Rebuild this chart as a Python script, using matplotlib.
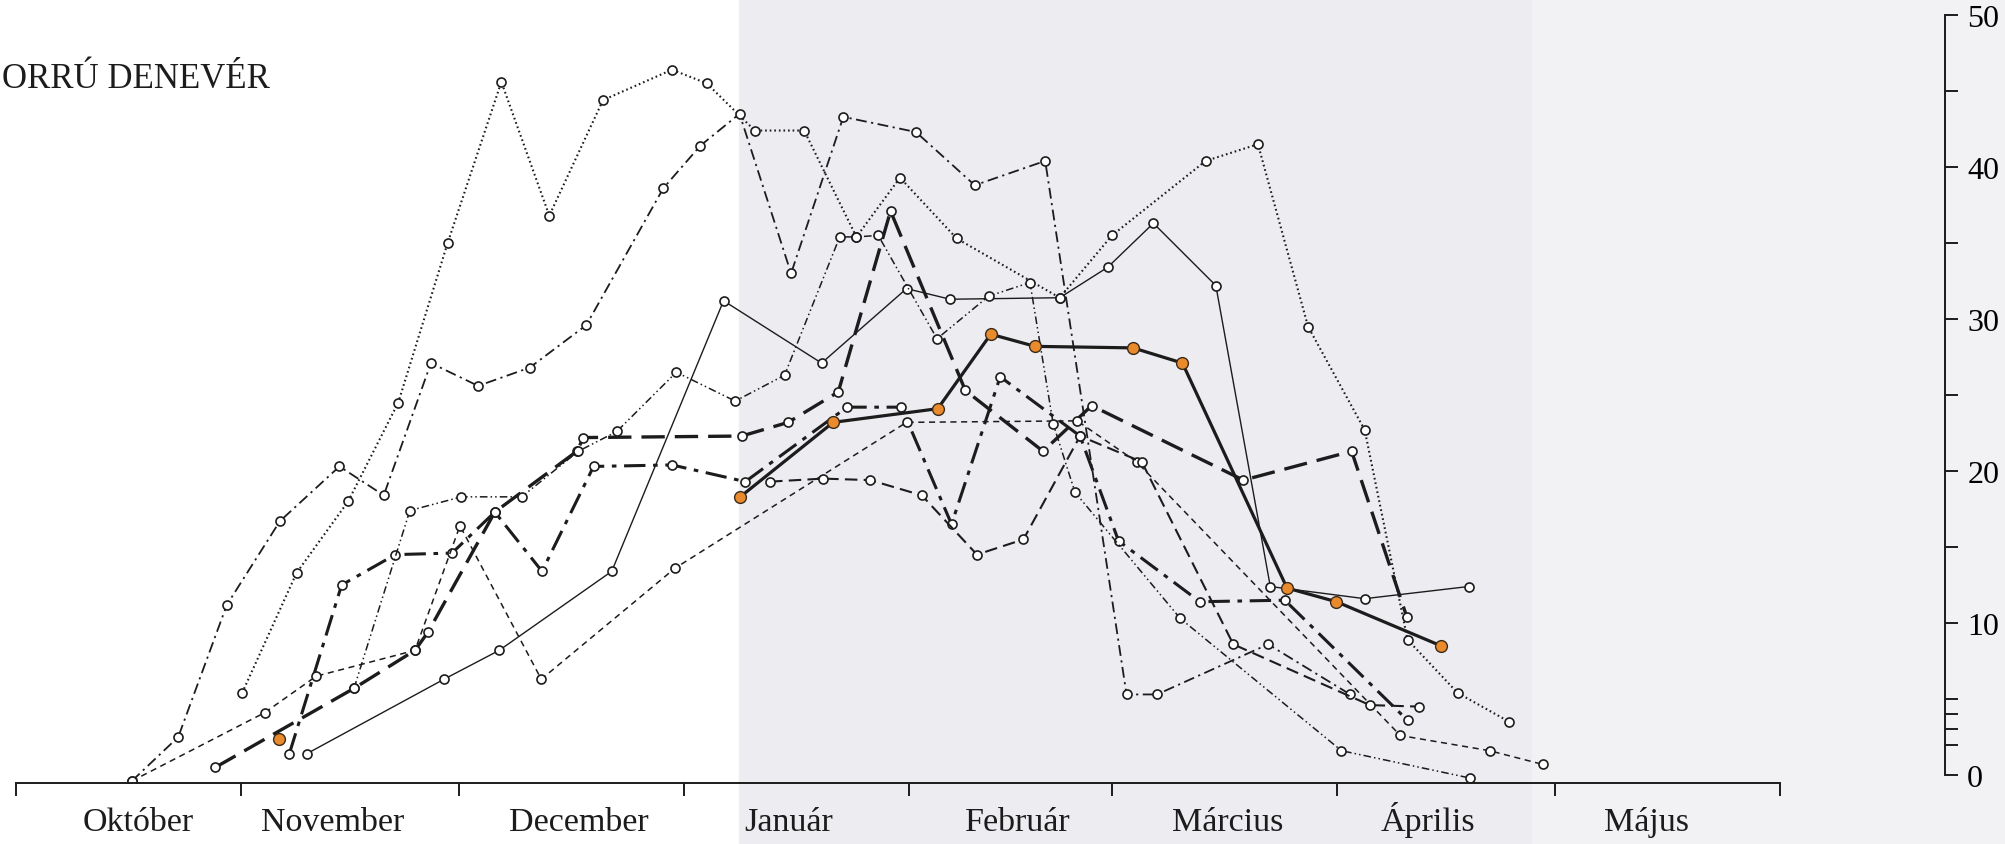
import numpy as np
import matplotlib.pyplot as plt
from matplotlib.patches import Rectangle
from matplotlib.transforms import blended_transform_factory

plt.rcParams['font.family'] = ['Liberation Serif', 'DejaVu Serif']

# x = days since 1 October, y = number of bats
months = ['Október', 'November', 'December', 'Január', 'Február',
          'Március', 'Április', 'Május']
month_len = [31, 30, 31, 31, 28, 31, 30, 31]

dot_x = [31.2, 38.7, 45.8, 52.7, 59.5, 66.9, 73.5, 80.9, 90.4, 95.2, 101.8, 108.6,
         115.8, 121.8, 129.6, 143.8, 151.0, 163.9, 171.1, 178.0, 185.8, 191.7, 198.6, 205.7]
dot_y = [5.4, 13.3, 18.0, 24.5, 35.0, 45.6, 36.8, 44.4, 46.4, 45.5, 42.4, 42.4,
         35.4, 39.3, 35.3, 31.4, 35.5, 40.4, 41.5, 29.5, 22.7, 8.9, 5.4, 3.5]

dd_x = [16.0, 22.4, 29.1, 36.4, 44.6, 50.7, 57.2, 63.7, 70.8, 78.6, 89.2, 94.3, 99.7,
        106.8, 114.0, 124.0, 132.1, 141.8, 153.0, 157.2, 172.5, 183.8]
dd_y = [-0.4, 2.5, 11.2, 16.7, 20.3, 18.4, 27.1, 25.6, 26.8, 29.6, 38.6, 41.4, 43.5,
        33.0, 43.3, 42.3, 38.8, 40.4, 5.3, 5.3, 8.6, 5.3]

thin_x = [40.1, 59.0, 66.6, 82.1, 97.5, 111.0, 122.7, 128.7, 143.8, 150.4, 156.7,
          165.3, 172.8, 185.8, 200.1]
thin_y = [1.4, 6.3, 8.2, 13.4, 31.2, 27.1, 32.0, 31.3, 31.4, 33.4, 36.3,
          32.2, 12.4, 11.6, 12.4]

orange_x = [99.8, 112.6, 127.0, 134.3, 140.4, 153.9, 160.7, 175.1, 181.9, 196.3]
orange_y = [18.3, 23.2, 24.1, 29.0, 28.2, 28.1, 27.1, 12.3, 11.4, 8.5]
orange_nov_x = [36.3]
orange_nov_y = [2.4]

long_x = [27.5, 46.6, 55.0, 56.8, 66.0, 77.3, 78.2, 100.0, 106.4, 113.3, 120.5,
          130.8, 141.5, 148.2, 169.1, 184.0, 191.6]
long_y = [0.5, 5.7, 8.2, 9.4, 17.3, 21.3, 22.2, 22.3, 23.2, 25.2, 37.1,
          25.3, 21.3, 24.3, 19.4, 21.3, 10.4]

hdd_x = [37.7, 44.9, 52.3, 60.1, 66.0, 72.5, 79.6, 90.4, 100.5, 114.5, 122.0,
         128.9, 135.6, 146.6, 151.9, 163.1, 174.8, 191.7]
hdd_y = [1.4, 12.5, 14.5, 14.6, 17.3, 13.4, 20.3, 20.4, 19.3, 24.2, 24.2,
         16.5, 26.2, 22.3, 15.4, 11.4, 11.5, 3.6]

fd_x = [16.0, 34.3, 41.4, 55.0, 61.2, 72.4, 90.8, 122.7, 146.2, 154.4, 190.7, 203.0, 210.3]
fd_y = [-0.4, 4.1, 6.5, 8.2, 16.4, 6.3, 13.6, 23.2, 23.3, 20.6, 2.6, 1.6, 0.7]

md_x = [103.9, 111.2, 117.7, 124.8, 132.4, 138.8, 146.6, 155.1, 167.7, 186.5, 193.3]
md_y = [19.3, 19.5, 19.4, 18.4, 14.5, 15.5, 22.3, 20.6, 8.6, 4.6, 4.5]

d2_x = [46.6, 54.3, 61.4, 69.7, 77.5, 82.8, 91.0, 99.1, 105.9, 113.5, 115.8, 118.8,
        126.9, 134.0, 139.7, 142.9, 145.9, 160.4, 182.6, 200.3]
d2_y = [5.7, 17.4, 18.3, 18.3, 21.3, 22.6, 26.5, 24.6, 26.3, 35.4, 35.4, 35.5,
        28.7, 31.5, 32.4, 23.1, 18.6, 10.3, 1.6, -0.2]

ink = '#1c1c1c'
W, H = 2005, 845
fig = plt.figure(figsize=(W / 100, H / 100), dpi=100)
fig.patches.append(Rectangle((739 / W, 0), (1532 - 739) / W, 1,
                             transform=fig.transFigure, color='#ececf1', zorder=0))
fig.patches.append(Rectangle((1532 / W, 0), 1, 1,
                             transform=fig.transFigure, color='#f2f2f4', zorder=0))
x0, xr = 15.6, 1945
ax = fig.add_axes([x0 / W, 1 - 784 / H, (xr - x0) / W, (784 - 16) / H])
ax.set_facecolor('none')
ax.set_zorder(5)

mk = dict(marker='o', ms=6.5, mfc='white', mec=ink, mew=1.2, color=ink)
ax.plot(dot_x, dot_y, lw=1.5, ls=(0, (0.8, 1.4)), **mk)
ax.plot(dd_x, dd_y, lw=1.3, ls=(0, (6, 2.5, 1.2, 2.5)), **mk)
ax.plot(thin_x, thin_y, lw=1.0, ls='-', **mk)
ax.plot(long_x, long_y, lw=2.4, ls=(0, (7, 3)), **mk)
ax.plot(hdd_x, hdd_y, lw=2.2, ls=(0, (7, 2.5, 1.5, 2.5)), **mk)
ax.plot(fd_x, fd_y, lw=1.1, ls=(0, (4, 3)), **mk)
ax.plot(md_x, md_y, lw=1.5, ls=(0, (6, 3)), **mk)
ax.plot(d2_x, d2_y, lw=1.1, ls=(0, (5, 2, 1, 2, 1, 2)), **mk)
ax.plot(orange_x, orange_y, lw=2.3, color=ink, marker='o', ms=8.5, mfc='#e98a2c', mec='#3a2a1a', mew=1.0)
ax.plot(orange_nov_x, orange_nov_y, ls='none', marker='o', ms=8.5, mfc='#e98a2c', mec='#3a2a1a', mew=1.0)

ax.set_xlim(0, (xr - x0) / 7.261)
ax.set_ylim(-0.526, 50)
for s in ['top', 'left']:
    ax.spines[s].set_visible(False)
ax.spines['bottom'].set_bounds(0, 243)
ax.spines['right'].set_bounds(0, 50)
for s in ['bottom', 'right']:
    ax.spines[s].set_linewidth(1.4)
    ax.spines[s].set_color(ink)

edges = np.concatenate([[0], np.cumsum(month_len)])
label_pos = [16.9, 43.7, 77.5, 106.5, 138.0, 166.9, 194.5, 224.6]
ax.set_xticks(edges)
ax.set_xticklabels([])
ax.tick_params(axis='x', which='major', direction='out', length=9, width=1.4, color=ink)
trans = blended_transform_factory(ax.transData, fig.transFigure)
for pos, name in zip(label_pos, months):
    ax.text(pos, 1 - 831 / H, name, transform=trans, ha='center', va='baseline',
            fontsize=24.5, color=ink, clip_on=False)

ax.yaxis.tick_right()
ax.set_yticks(np.arange(0, 51, 5))
ax.set_yticklabels(['0', '', '10', '', '20', '', '30', '', '40', '', '50'], fontsize=23)
ax.set_yticks([2, 3, 4], minor=True)
ax.tick_params(axis='y', which='both', direction='out', length=9, width=1.4, color=ink, pad=7)

fig.text(0.001, 1 - 80 / H, 'ORRÚ DENEVÉR', fontsize=25, va='center', ha='left', color=ink)

fig.savefig('out.png', dpi=100)
